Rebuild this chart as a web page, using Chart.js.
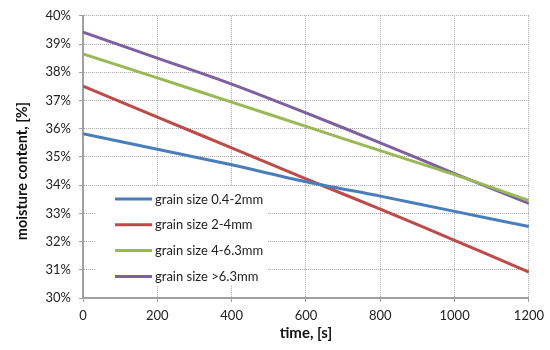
<!DOCTYPE html>
<html>
<head>
<meta charset="utf-8">
<script src="https://cdn.jsdelivr.net/npm/chart.js@4.4.0/dist/chart.umd.min.js"></script>
<style>
html,body{margin:0;padding:0;background:#fff;}
#wrap{position:relative;width:550px;height:350px;}
</style>
</head>
<body>
<div id="wrap"><canvas id="c" width="550" height="350"></canvas></div>
<script>
const times = [0, 200, 400, 600, 800, 1000, 1200];
const seriesNames = ['grain size 0.4-2mm', 'grain size 2-4mm', 'grain size 4-6.3mm', 'grain size >6.3mm'];
const size04to2 = [35.82, 35.27, 34.72, 34.12, 33.61, 33.07, 32.53];
const size2to4 = [37.51, 36.41, 35.32, 34.22, 33.15, 32.04, 30.92];
const size4to63 = [38.65, 37.80, 36.94, 36.08, 35.22, 34.37, 33.45];
const sizeOver63 = [39.42, 38.50, 37.58, 36.56, 35.50, 34.41, 33.35];
const colors = ['#4a7ebb', '#be4b48', '#98b954', '#7d60a0'];
const yTicksMin = 30, yTicksMax = 40;
const yTitle = 'moisture content, [%]';
const xTitle = 'time, [s]';

const allSeries = [size04to2, size2to4, size4to63, sizeOver63];
const FONT = 'Lato, "Liberation Sans", sans-serif';

const legendPlugin = {
  id: 'insideLegend',
  beforeDatasetsDraw(chart) {
    const ctx = chart.ctx, a = chart.chartArea;
    ctx.save();
    ctx.fillStyle = '#ffffff';
    ctx.fillRect(a.left + 13, 186, 172, 99);
    ctx.restore();
  },
  afterDatasetsDraw(chart) {
    const ctx = chart.ctx, a = chart.chartArea;
    ctx.save();
    ctx.font = '13px ' + FONT;
    ctx.textBaseline = 'middle';
    chart.data.datasets.forEach((ds, i) => {
      const y = 199 + i * 25.8;
      const x0 = a.left + 32;
      ctx.strokeStyle = ds.borderColor;
      ctx.lineWidth = 3;
      ctx.beginPath();
      ctx.moveTo(x0, y);
      ctx.lineTo(x0 + 37, y);
      ctx.stroke();
      ctx.fillStyle = '#222';
      ctx.fillText(ds.label, x0 + 40, y + 0.5);
    });
    ctx.restore();
  },
  afterDraw(chart) {
    const ctx = chart.ctx;
    ctx.save();
    ctx.translate(22, 171);
    ctx.rotate(-Math.PI / 2);
    ctx.font = 'bold 14.5px ' + FONT;
    ctx.fillStyle = '#111';
    ctx.textAlign = 'center';
    ctx.textBaseline = 'middle';
    ctx.fillText(yTitle, 0, 0);
    ctx.restore();
  }
};

new Chart(document.getElementById('c'), {
  type: 'line',
  data: {
    datasets: allSeries.map((vals, i) => ({
      label: seriesNames[i],
      data: times.map((t, j) => ({x: t, y: vals[j]})),
      borderColor: colors[i],
      backgroundColor: colors[i],
      borderWidth: 3,
      pointRadius: 0,
      tension: 0.3,
      fill: false
    }))
  },
  options: {
    responsive: false,
    animation: false,
    devicePixelRatio: 1,
    layout: {padding: {top: 14, right: 20, left: 10, bottom: 8}},
    plugins: {legend: {display: false}, tooltip: {enabled: false}},
    scales: {
      x: {
        type: 'linear', min: 0, max: 1200,
        ticks: {stepSize: 200, color: '#222', font: {family: FONT, size: 13}, padding: 6, maxRotation: 0, callback: v => String(v)},
        grid: {color: '#a8a8a8', tickBorderDash: [], tickColor: '#a0a0a0', tickLength: 4, drawOnChartArea: true},
        border: {color: '#a0a0a0', width: 2, dash: [1, 1]},
        title: {display: true, text: xTitle, color: '#111', font: {family: FONT, size: 15, weight: 'bold'}, padding: {top: 0, bottom: 0}},
        afterFit(s) { s.height = 44; }
      },
      y: {
        min: yTicksMin, max: yTicksMax,
        ticks: {stepSize: 1, color: '#222', font: {family: FONT, size: 13}, padding: 8, callback: v => v + '%'},
        grid: {color: '#a8a8a8', tickBorderDash: [], tickColor: '#a0a0a0', tickLength: 4},
        border: {color: '#a0a0a0', width: 2, dash: [1, 1]},
        afterFit(s) { s.width = 73; }
      }
    }
  },
  plugins: [legendPlugin]
});
</script>
</body>
</html>
